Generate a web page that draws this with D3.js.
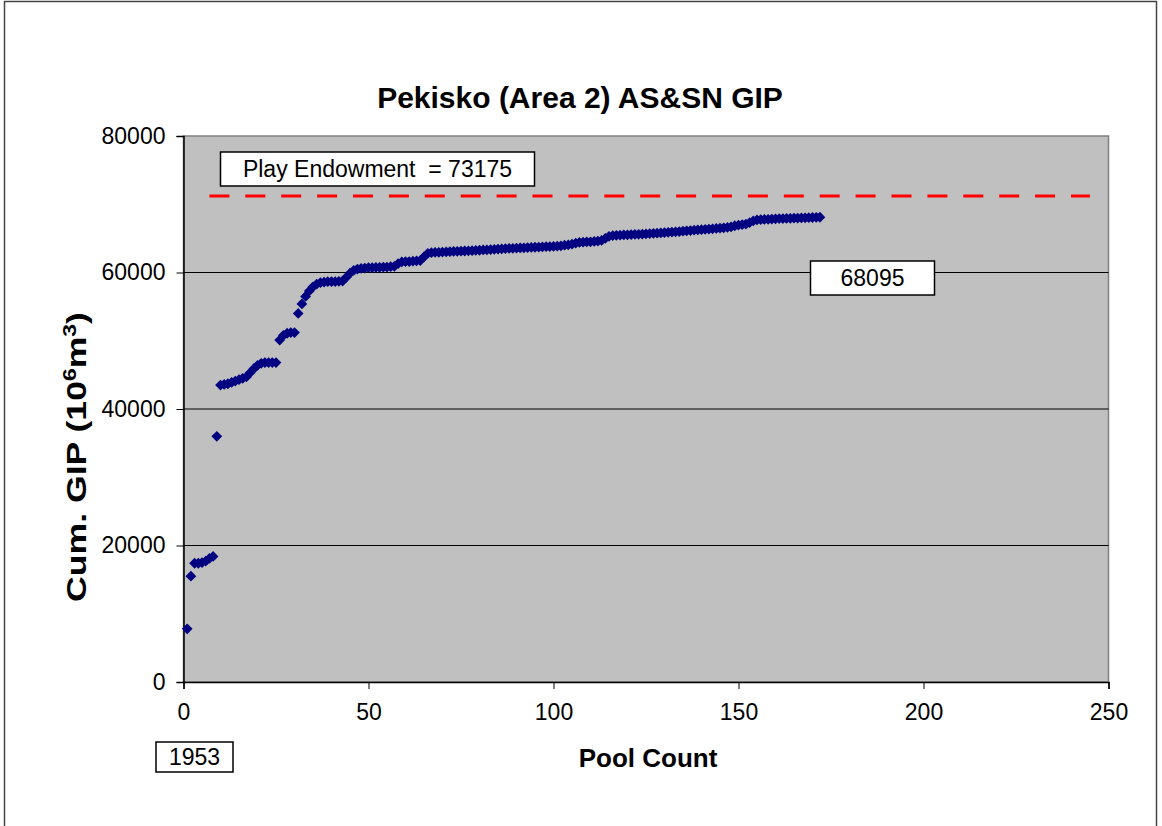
<!DOCTYPE html>
<html>
<head>
<meta charset="utf-8">
<script src="https://cdn.jsdelivr.net/npm/d3@7"></script>
<style>
  body { margin: 0; background: #fff; }
  svg text { font-family: "Liberation Sans", Arial, sans-serif; }
</style>
</head>
<body>
<div id="chart"></div>
<script>
// cumulative GIP per pool (pool count 1..172)
const cumGip = [
    7800, 15500, 17400, 17400, 17500, 17700, 18100, 18400, 36000, 43500,
    43600, 43700, 43900, 44100, 44300, 44500, 44700, 45300, 45900, 46400,
    46700, 46800, 46800, 46800, 46800, 50100, 50800, 51100, 51200, 51200,
    54000, 55400, 56500, 57300, 57900, 58300, 58500, 58600, 58650, 58650,
    58650, 58700, 58750, 59300, 59900, 60300, 60500, 60600, 60650, 60700,
    60700, 60750, 60750, 60800, 60800, 60850, 60900, 61300, 61550, 61600,
    61600, 61650, 61700, 61750, 62300, 62800, 62900, 62950, 62950, 63000,
    63020, 63050, 63080, 63100, 63120, 63150, 63180, 63200, 63230, 63260,
    63300, 63330, 63360, 63400, 63430, 63460, 63500, 63520, 63550, 63570,
    63600, 63620, 63650, 63680, 63700, 63720, 63750, 63780, 63800, 63830,
    63860, 63900, 64000, 64050, 64150, 64300, 64400, 64450, 64500, 64500,
    64550, 64600, 64700, 65000, 65300, 65400, 65450, 65470, 65500, 65520,
    65550, 65570, 65600, 65620, 65650, 65680, 65720, 65760, 65800, 65840,
    65880, 65920, 65960, 66000, 66050, 66100, 66150, 66200, 66240, 66280,
    66320, 66360, 66400, 66450, 66500, 66550, 66600, 66700, 66850, 66950,
    67000, 67100, 67300, 67550, 67700, 67750, 67780, 67800, 67830, 67860,
    67880, 67900, 67920, 67940, 67960, 67980, 68000, 68020, 68040, 68060,
    68080, 68095
];
const poolCount = cumGip.map((v, i) => i + 1);

const xTicks = [0, 50, 100, 150, 200, 250];
const yTicks = [0, 20000, 40000, 60000, 80000];

// dashed reference line as drawn (start / end pool, level)
const endowmentX = [7, 245];
const endowmentLevel = 71200;
const endowmentLabel = "Play Endowment\u00a0\u00a0= 73175";
const finalLabel = "68095";
const yearLabel = "1953";

const width = 1162;
const height = 826;

const svg = d3.select("#chart")
    .append("svg")
    .attr("width", width)
    .attr("height", height);

// outer frame
svg.append("rect")
    .attr("x", 4.5).attr("y", 1.5)
    .attr("width", 1152).attr("height", 840)
    .attr("fill", "none")
    .attr("stroke", "#444")
    .attr("stroke-width", 1.5);

const x = d3.scaleLinear().domain([0, 250]).range([183.5, 1108.5]);
const y = d3.scaleLinear().domain([0, 80000]).range([682, 136]);

// plot area
svg.append("rect")
    .attr("x", x(0)).attr("y", y(80000))
    .attr("width", x(250) - x(0)).attr("height", y(0) - y(80000))
    .attr("fill", "#c0c0c0")
    .attr("stroke", "#808080")
    .attr("stroke-width", 1.5);

// gridlines
svg.append("g").selectAll("line")
    .data(yTicks.filter(d => d > 0 && d < 80000))
    .join("line")
    .attr("x1", x(0)).attr("x2", x(250))
    .attr("y1", d => y(d)).attr("y2", d => y(d))
    .attr("stroke", "#000")
    .attr("stroke-width", 1);

// axes
const xAxis = d3.axisBottom(x).tickValues(xTicks).tickSize(7).tickPadding(15).tickFormat(d3.format("d"));
const yAxis = d3.axisLeft(y).tickValues(yTicks).tickSize(7).tickPadding(11).tickFormat(d3.format("d"));

const gx = svg.append("g").attr("transform", `translate(0,${y(0)})`).call(xAxis);
const gy = svg.append("g").attr("transform", `translate(${x(0)},0)`).call(yAxis);

[gx, gy].forEach(g => {
    g.select(".domain").attr("stroke", "#000").attr("stroke-width", 1.5);
    g.selectAll(".tick line").attr("stroke", "#000").attr("stroke-width", 1);
    g.selectAll(".tick text")
        .attr("font-size", "23px")
        .attr("fill", "#000")
        .style("font-family", "'Liberation Sans', Arial, sans-serif");
});

// endowment dashed line
svg.append("line")
    .attr("x1", x(endowmentX[0])).attr("x2", x(endowmentX[1]))
    .attr("y1", y(endowmentLevel)).attr("y2", y(endowmentLevel))
    .attr("stroke", "#ff0000")
    .attr("stroke-width", 3)
    .attr("stroke-dasharray", "20 15.9");

// data points (diamonds)
const diamond = d3.symbol().type(d3.symbolSquare).size(58);
svg.append("g").selectAll("path")
    .data(cumGip)
    .join("path")
    .attr("d", diamond)
    .attr("transform", (d, i) => `translate(${x(poolCount[i])},${y(d)}) rotate(45)`)
    .attr("fill", "#000080");

// label boxes
function labelBox(x0, y0, w, h, text, fs) {
    svg.append("rect")
        .attr("x", x0).attr("y", y0).attr("width", w).attr("height", h)
        .attr("fill", "#fff").attr("stroke", "#000").attr("stroke-width", 1.5);
    svg.append("text")
        .attr("x", x0 + w / 2).attr("y", y0 + h / 2)
        .attr("dy", "0.36em")
        .attr("text-anchor", "middle")
        .attr("font-size", fs)
        .text(text);
}
labelBox(220.5, 152, 314, 34, endowmentLabel, "23px");
labelBox(810.5, 261, 124, 34, finalLabel, "23px");
labelBox(156, 742, 77, 30, yearLabel, "23px");

// title
svg.append("text")
    .attr("x", 580).attr("y", 108)
    .attr("text-anchor", "middle")
    .attr("font-size", "30px")
    .attr("font-weight", "bold")
    .text("Pekisko (Area 2) AS&SN GIP");

// x axis title
svg.append("text")
    .attr("x", 648).attr("y", 767)
    .attr("text-anchor", "middle")
    .attr("font-size", "26px")
    .attr("font-weight", "bold")
    .text("Pool Count");

// y axis title with superscripts, stretched to the drawn length
const yt = svg.append("text")
    .attr("text-anchor", "middle")
    .attr("font-size", "28px")
    .attr("font-weight", "bold");
yt.append("tspan").text("Cum. GIP (10");
yt.append("tspan").attr("font-size", "18px").attr("dy", "-10").text("6");
yt.append("tspan").attr("dy", "10").text("m");
yt.append("tspan").attr("font-size", "18px").attr("dy", "-10").text("3");
yt.append("tspan").attr("dy", "10").text(")");
const ytLen = yt.node().getBBox().width;
yt.attr("transform", `translate(86,457) rotate(-90) scale(${290 / ytLen},1)`);
</script>
</body>
</html>
